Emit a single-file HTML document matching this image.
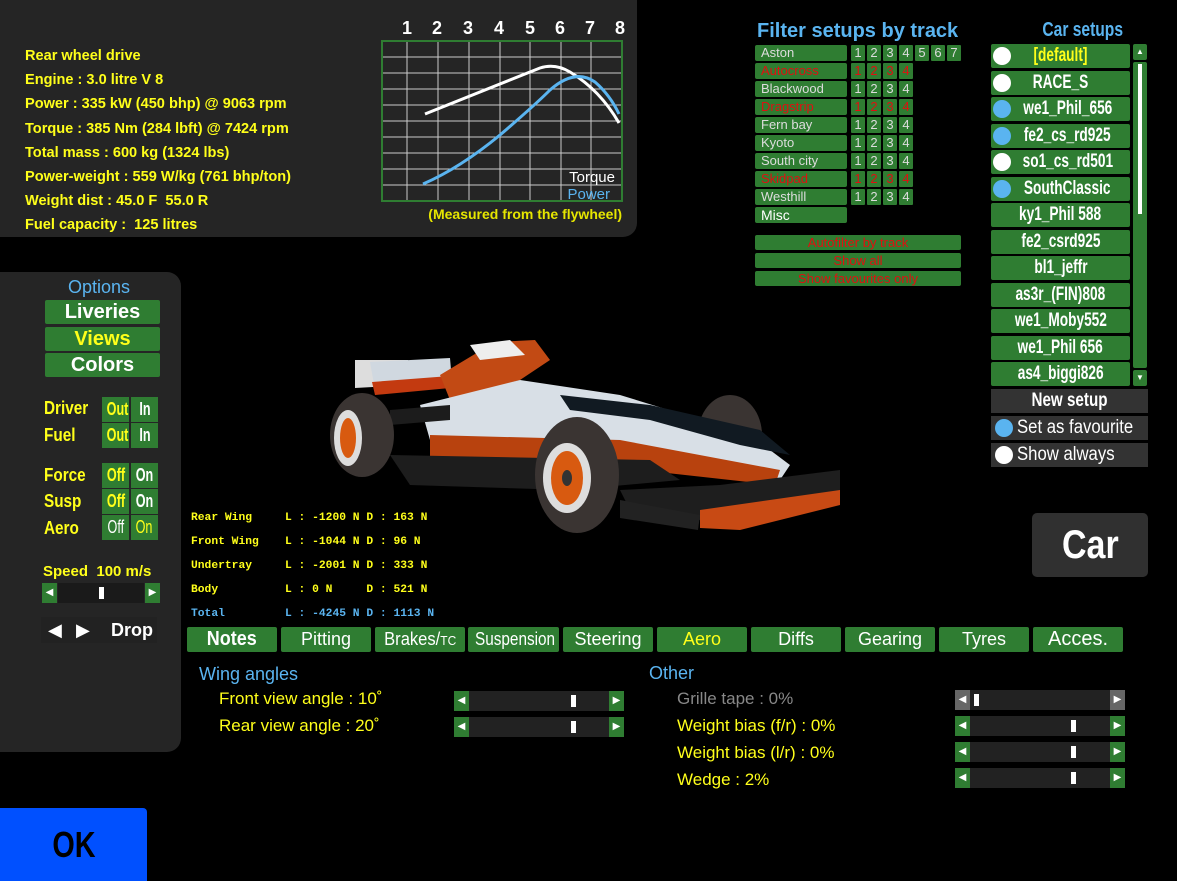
<!DOCTYPE html>
<html><head><meta charset="utf-8"><style>
*{margin:0;padding:0;box-sizing:border-box}
body{width:1177px;height:881px;background:#000;position:relative;overflow:hidden;font-family:"Liberation Sans",sans-serif}
.a{position:absolute}
.g{position:absolute;background:#2f7d32;border-radius:2px}
.y{color:#ffff1a}
.n{font-weight:bold}
.c{display:inline-block;transform:scaleX(.78);transform-origin:center;white-space:nowrap}
.blue{color:#5ab4f0}
.lst{font-weight:bold;color:#fff;font-size:19px;text-align:center;line-height:24px;white-space:nowrap;overflow:hidden}
.lst .c{transform:scaleX(.72)}
.f{font-size:13px;color:#ddd;line-height:16px;padding-left:6px}
.r{color:#e01010}
.num{position:absolute;width:14px;height:16px;background:#2f7d32;color:#ddd;font-size:13px;text-align:center;line-height:16px;border-radius:1px}
.tab{position:absolute;top:627px;height:25px;background:#2f7d32;color:#fff;font-size:18px;text-align:center;line-height:25px;border-radius:2px;white-space:nowrap;overflow:hidden}
.sl{position:absolute;height:20px}
.sl .l,.sl .rr{position:absolute;top:0;width:15px;height:20px;background:#2f7d32;color:#fff;font-size:10px;text-align:center;line-height:20px}
.sl .t{position:absolute;top:0;height:20px;background:#222}
.sl .k{position:absolute;top:4px;width:5px;height:12px;background:#fff}
.lab{position:absolute;font-size:17px;color:#ffff1a}
.tog{position:absolute;width:27px;height:25px;background:#2f7d32;text-align:center;line-height:25px;font-size:18px;font-weight:bold;overflow:hidden}
.tog .c{transform:scaleX(.7)}
.aero{position:absolute;font-family:"Liberation Mono",monospace;font-size:11.3px;font-weight:bold;color:#ffff1a}
</style></head><body>

<div class="a" style="left:0;top:0;width:637px;height:237px;background:#252525;border-bottom-right-radius:14px"></div>
<div class="a n y" style="left:25px;top:44px;font-size:15px;line-height:24.2px;transform:scaleX(.97);transform-origin:left">
Rear wheel drive<br>Engine : 3.0 litre V 8<br>Power : 335 kW (450 bhp) @ 9063 rpm<br>Torque : 385 Nm (284 lbft) @ 7424 rpm<br>Total mass : 600 kg (1324 lbs)<br>Power-weight : 559 W/kg (761 bhp/ton)<br>Weight dist : 45.0 F &nbsp;55.0 R<br>Fuel capacity : &nbsp;125 litres</div>

<svg class="a" style="left:370px;top:10px" width="270" height="220">
<g fill="#fff" font-family="Liberation Sans" font-weight="bold" font-size="18" text-anchor="middle">
<text x="37" y="24">1</text><text x="67" y="24">2</text><text x="98" y="24">3</text><text x="129" y="24">4</text><text x="160" y="24">5</text><text x="190" y="24">6</text><text x="220" y="24">7</text><text x="250" y="24">8</text></g>
<rect x="12" y="31" width="240" height="160" fill="#252525" stroke="#2f7d32" stroke-width="2"/>
<g stroke="#ccc" stroke-width="1">
<line x1="37" y1="32" x2="37" y2="190"/><line x1="68" y1="32" x2="68" y2="190"/><line x1="99" y1="32" x2="99" y2="190"/><line x1="130" y1="32" x2="130" y2="190"/><line x1="160" y1="32" x2="160" y2="190"/><line x1="191" y1="32" x2="191" y2="190"/><line x1="221" y1="32" x2="221" y2="190"/>
<line x1="13" y1="47" x2="251" y2="47"/><line x1="13" y1="63" x2="251" y2="63"/><line x1="13" y1="79" x2="251" y2="79"/><line x1="13" y1="95" x2="251" y2="95"/><line x1="13" y1="111" x2="251" y2="111"/><line x1="13" y1="127" x2="251" y2="127"/><line x1="13" y1="143" x2="251" y2="143"/><line x1="13" y1="159" x2="251" y2="159"/><line x1="13" y1="175" x2="251" y2="175"/></g>
<path d="M55 104 L170 58 Q185 53 200 62 Q230 80 249 113" stroke="#fff" stroke-width="3" fill="none"/>
<path d="M53 174 Q90 158 130 125 Q165 95 180 80 Q205 58 225 72 Q240 85 249 104" stroke="#5ab4f0" stroke-width="3" fill="none"/>
<text x="245" y="172" fill="#fff" font-size="15" text-anchor="end" font-family="Liberation Sans">Torque</text>
<text x="240" y="189" fill="#5ab4f0" font-size="15" text-anchor="end" font-family="Liberation Sans">Power</text>
<text x="252" y="209" fill="#e6e600" font-size="14" font-weight="bold" text-anchor="end" font-family="Liberation Sans">(Measured from the flywheel)</text>
</svg>

<div class="a blue" style="left:757px;top:20px;font-size:20px;font-weight:bold">Filter setups by track</div>
<div class="g f" style="left:755px;top:45px;width:92px;height:16px">Aston</div>
<div class="g f" style="left:755px;top:63px;width:92px;height:16px;color:#e01010">Autocross</div>
<div class="g f" style="left:755px;top:81px;width:92px;height:16px">Blackwood</div>
<div class="g f" style="left:755px;top:99px;width:92px;height:16px;color:#e01010">Dragstrip</div>
<div class="g f" style="left:755px;top:117px;width:92px;height:16px">Fern bay</div>
<div class="g f" style="left:755px;top:135px;width:92px;height:16px">Kyoto</div>
<div class="g f" style="left:755px;top:153px;width:92px;height:16px">South city</div>
<div class="g f" style="left:755px;top:171px;width:92px;height:16px;color:#e01010">Skidpad</div>
<div class="g f" style="left:755px;top:189px;width:92px;height:16px">Westhill</div>
<div class="g f" style="left:755px;top:207px;width:92px;height:16px;font-size:14px;color:#fff">Misc</div>
<div class="num" style="left:851px;top:45px">1</div><div class="num" style="left:867px;top:45px">2</div><div class="num" style="left:883px;top:45px">3</div><div class="num" style="left:899px;top:45px">4</div><div class="num" style="left:915px;top:45px">5</div><div class="num" style="left:931px;top:45px">6</div><div class="num" style="left:947px;top:45px">7</div>
<div class="num" style="left:851px;top:63px;color:#e01010">1</div><div class="num" style="left:867px;top:63px;color:#e01010">2</div><div class="num" style="left:883px;top:63px;color:#e01010">3</div><div class="num" style="left:899px;top:63px;color:#e01010">4</div>
<div class="num" style="left:851px;top:81px">1</div><div class="num" style="left:867px;top:81px">2</div><div class="num" style="left:883px;top:81px">3</div><div class="num" style="left:899px;top:81px">4</div>
<div class="num" style="left:851px;top:99px;color:#e01010">1</div><div class="num" style="left:867px;top:99px;color:#e01010">2</div><div class="num" style="left:883px;top:99px;color:#e01010">3</div><div class="num" style="left:899px;top:99px;color:#e01010">4</div>
<div class="num" style="left:851px;top:117px">1</div><div class="num" style="left:867px;top:117px">2</div><div class="num" style="left:883px;top:117px">3</div><div class="num" style="left:899px;top:117px">4</div>
<div class="num" style="left:851px;top:135px">1</div><div class="num" style="left:867px;top:135px">2</div><div class="num" style="left:883px;top:135px">3</div><div class="num" style="left:899px;top:135px">4</div>
<div class="num" style="left:851px;top:153px">1</div><div class="num" style="left:867px;top:153px">2</div><div class="num" style="left:883px;top:153px">3</div><div class="num" style="left:899px;top:153px">4</div>
<div class="num" style="left:851px;top:171px;color:#e01010">1</div><div class="num" style="left:867px;top:171px;color:#e01010">2</div><div class="num" style="left:883px;top:171px;color:#e01010">3</div><div class="num" style="left:899px;top:171px;color:#e01010">4</div>
<div class="num" style="left:851px;top:189px">1</div><div class="num" style="left:867px;top:189px">2</div><div class="num" style="left:883px;top:189px">3</div><div class="num" style="left:899px;top:189px">4</div>
<div class="g" style="left:755px;top:235px;width:206px;height:15px;color:#e01010;font-size:13px;text-align:center;line-height:15px">Autofilter by track</div>
<div class="g" style="left:755px;top:253px;width:206px;height:15px;color:#e01010;font-size:13px;text-align:center;line-height:15px">Show all</div>
<div class="g" style="left:755px;top:271px;width:206px;height:15px;color:#e01010;font-size:13px;text-align:center;line-height:15px">Show favourites only</div>

<div class="a blue n" style="left:1028px;top:19px;font-size:20px;width:110px;text-align:center"><span class="c">Car setups</span></div>
<div class="g lst" style="left:991px;top:44px;width:139px;height:24px;color:#ffff1a"><span style="position:absolute;left:2px;top:3px;width:18px;height:18px;border-radius:9px;background:#fff"></span><span class="c">[default]</span></div>
<div class="g lst" style="left:991px;top:71px;width:139px;height:24px"><span style="position:absolute;left:2px;top:3px;width:18px;height:18px;border-radius:9px;background:#fff"></span><span class="c">RACE_S</span></div>
<div class="g lst" style="left:991px;top:97px;width:139px;height:24px;padding-left:14px"><span style="position:absolute;left:2px;top:3px;width:18px;height:18px;border-radius:9px;background:#5ab4f0"></span><span class="c">we1_Phil_656</span></div>
<div class="g lst" style="left:991px;top:124px;width:139px;height:24px;padding-left:14px"><span style="position:absolute;left:2px;top:3px;width:18px;height:18px;border-radius:9px;background:#5ab4f0"></span><span class="c">fe2_cs_rd925</span></div>
<div class="g lst" style="left:991px;top:150px;width:139px;height:24px;padding-left:14px"><span style="position:absolute;left:2px;top:3px;width:18px;height:18px;border-radius:9px;background:#fff"></span><span class="c">so1_cs_rd501</span></div>
<div class="g lst" style="left:991px;top:177px;width:139px;height:24px;padding-left:14px"><span style="position:absolute;left:2px;top:3px;width:18px;height:18px;border-radius:9px;background:#5ab4f0"></span><span class="c">SouthClassic</span></div>
<div class="g lst" style="left:991px;top:203px;width:139px;height:24px"><span class="c">ky1_Phil 588</span></div>
<div class="g lst" style="left:991px;top:230px;width:139px;height:24px"><span class="c">fe2_csrd925</span></div>
<div class="g lst" style="left:991px;top:256px;width:139px;height:24px"><span class="c">bl1_jeffr</span></div>
<div class="g lst" style="left:991px;top:283px;width:139px;height:24px"><span class="c">as3r_(FIN)808</span></div>
<div class="g lst" style="left:991px;top:309px;width:139px;height:24px"><span class="c">we1_Moby552</span></div>
<div class="g lst" style="left:991px;top:336px;width:139px;height:24px"><span class="c">we1_Phil 656</span></div>
<div class="g lst" style="left:991px;top:362px;width:139px;height:24px"><span class="c">as4_biggi826</span></div>
<div class="g" style="left:1133px;top:44px;width:14px;height:16px;color:#fff;font-size:8px;text-align:center;line-height:16px">▲</div>
<div class="g" style="left:1133px;top:62px;width:14px;height:306px"><span style="position:absolute;left:5px;top:2px;width:4px;height:150px;background:#fff"></span></div>
<div class="g" style="left:1133px;top:370px;width:14px;height:16px;color:#fff;font-size:8px;text-align:center;line-height:16px">▼</div>
<div class="a lst" style="left:991px;top:389px;width:157px;height:24px;background:#333"><span class="c" style="transform:scaleX(.8)">New setup</span></div>
<div class="a" style="left:991px;top:416px;width:157px;height:24px;background:#333;color:#fff;font-size:19px;line-height:24px;white-space:nowrap"><span style="position:absolute;left:4px;top:3px;width:18px;height:18px;border-radius:9px;background:#5ab4f0"></span><span style="position:absolute;left:26px;transform:scaleX(.88);transform-origin:left">Set as favourite</span></div>
<div class="a" style="left:991px;top:443px;width:157px;height:24px;background:#333;color:#fff;font-size:19px;line-height:24px;white-space:nowrap"><span style="position:absolute;left:4px;top:3px;width:18px;height:18px;border-radius:9px;background:#fff"></span><span style="position:absolute;left:26px;transform:scaleX(.88);transform-origin:left">Show always</span></div>

<div class="a n" style="left:1032px;top:513px;width:116px;height:64px;background:#303030;border-radius:5px;color:#fff;font-size:40px;text-align:center;line-height:64px"><span class="c" style="transform:scaleX(.85)">Car</span></div>

<div class="a" style="left:0;top:272px;width:181px;height:480px;background:#252525;border-top-right-radius:14px;border-bottom-right-radius:14px"></div>
<div class="a blue" style="left:68px;top:277px;font-size:18px">Options</div>
<div class="g" style="left:45px;top:300px;width:115px;height:24px;color:#fff;font-size:20px;font-weight:bold;text-align:center;line-height:24px">Liveries</div>
<div class="g" style="left:45px;top:327px;width:115px;height:24px;color:#ffff1a;font-size:20px;font-weight:bold;text-align:center;line-height:24px">Views</div>
<div class="g" style="left:45px;top:353px;width:115px;height:24px;color:#fff;font-size:20px;font-weight:bold;text-align:center;line-height:24px">Colors</div>
<div class="a n y" style="left:44px;top:398px;font-size:18px;transform:scaleX(.85);transform-origin:left">Driver</div>
<div class="a n y" style="left:44px;top:425px;font-size:18px;transform:scaleX(.85);transform-origin:left">Fuel</div>
<div class="a n y" style="left:44px;top:465px;font-size:18px;transform:scaleX(.85);transform-origin:left">Force</div>
<div class="a n y" style="left:44px;top:491px;font-size:18px;transform:scaleX(.85);transform-origin:left">Susp</div>
<div class="a n y" style="left:44px;top:518px;font-size:18px;transform:scaleX(.85);transform-origin:left">Aero</div>
<div class="tog y" style="left:102px;top:397px"><span class="c">Out</span></div><div class="tog" style="left:131px;top:397px;color:#fff"><span class="c">In</span></div>
<div class="tog y" style="left:102px;top:423px"><span class="c">Out</span></div><div class="tog" style="left:131px;top:423px;color:#fff"><span class="c">In</span></div>
<div class="tog y" style="left:102px;top:463px"><span class="c">Off</span></div><div class="tog" style="left:131px;top:463px;color:#fff"><span class="c">On</span></div>
<div class="tog y" style="left:102px;top:489px"><span class="c">Off</span></div><div class="tog" style="left:131px;top:489px;color:#fff"><span class="c">On</span></div>
<div class="tog" style="left:102px;top:515px;color:#fff;font-weight:normal"><span class="c">Off</span></div><div class="tog y" style="left:131px;top:515px;font-weight:normal"><span class="c">On</span></div>
<div class="a y" style="left:43px;top:563px;font-size:15px;font-weight:bold">Speed &nbsp;100 m/s</div>
<div class="sl" style="left:42px;top:583px;width:118px"><div class="l" style="left:0">◀</div><div class="t" style="left:16px;width:86px;background:#1a1a1a"></div><div class="k" style="left:57px"></div><div class="rr" style="left:103px">▶</div></div>
<div class="a" style="left:41px;top:617px;width:116px;height:26px;background:#222;color:#fff;font-size:18px;line-height:26px"><span style="position:absolute;left:7px">◀</span><span style="position:absolute;left:35px">▶</span><span class="n" style="position:absolute;left:70px">Drop</span></div>

<svg class="a" style="left:320px;top:320px" width="640" height="220">
<ellipse cx="410" cy="115" rx="32" ry="40" fill="#3a3432"/>
<polygon points="35,40 88,40 90,65 35,68" fill="#ddd"/>
<polygon points="50,42 130,38 132,62 55,70" fill="#d0d8e0"/>
<polygon points="52,62 130,56 130,68 55,75" fill="#c33a10"/>
<polygon points="120,55 175,22 215,20 230,40 200,60 130,80" fill="#c24a14"/>
<polygon points="150,25 190,20 205,35 160,40" fill="#eee"/>
<polygon points="100,85 200,60 300,75 430,115 470,145 460,160 330,140 150,135 110,120" fill="#d8dfe6"/>
<polygon points="110,115 300,120 460,150 455,165 320,150 110,140" fill="#b8420e"/>
<polygon points="240,75 330,85 440,110 470,135 420,125 330,100 250,90" fill="#111a22"/>
<polygon points="70,90 130,85 130,100 70,105" fill="#1c1c1c"/>
<polygon points="70,135 330,140 360,160 250,170 90,165" fill="#1d1d1d"/>
<polygon points="300,170 400,165 520,150 520,175 470,195 380,200 310,190" fill="#1e1e1e"/>
<polygon points="380,190 520,170 520,185 420,210 380,208" fill="#c84a14"/>
<polygon points="300,180 380,195 378,210 300,198" fill="#222"/>
<ellipse cx="42" cy="115" rx="32" ry="42" fill="#3a3432"/>
<ellipse cx="28" cy="118" rx="14" ry="28" fill="#ddd"/>
<ellipse cx="28" cy="118" rx="8" ry="20" fill="#d85a10"/>
<ellipse cx="257" cy="155" rx="42" ry="58" fill="#3a3432"/>
<ellipse cx="247" cy="158" rx="24" ry="35" fill="#ddd"/>
<ellipse cx="247" cy="158" rx="16" ry="27" fill="#d85a10"/>
<ellipse cx="247" cy="158" rx="5" ry="8" fill="#333"/>
</svg>

<div class="aero" style="left:191px;top:506px;line-height:24px">Rear Wing<br>Front Wing<br>Undertray<br>Body<br><span style="color:#5ab4f0">Total</span></div>
<div class="aero" style="left:285px;top:506px;line-height:24px;white-space:pre">L : -1200 N D : 163 N
L : -1044 N D : 96 N
L : -2001 N D : 333 N
L : 0 N     D : 521 N
<span style="color:#5ab4f0">L : -4245 N D : 1113 N</span></div>

<div class="tab" style="left:187px;width:90px;font-size:20px;font-weight:bold"><span class="c" style="transform:scaleX(.9)">Notes</span></div>
<div class="tab" style="left:281px;width:90px">Pitting</div>
<div class="tab" style="left:375px;width:90px"><span class="c" style="transform:scaleX(.92)">Brakes/<span style="font-size:13px">TC</span></span></div>
<div class="tab" style="left:468px;width:91px"><span class="c" style="transform:scaleX(.85)">Suspension</span></div>
<div class="tab" style="left:563px;width:90px">Steering</div>
<div class="tab" style="left:657px;width:90px;color:#ffff1a">Aero</div>
<div class="tab" style="left:751px;width:90px">Diffs</div>
<div class="tab" style="left:845px;width:90px">Gearing</div>
<div class="tab" style="left:939px;width:90px">Tyres</div>
<div class="tab" style="left:1033px;width:90px;font-size:20px">Acces.</div>

<div class="a blue" style="left:199px;top:664px;font-size:18px">Wing angles</div>
<div class="a blue" style="left:649px;top:663px;font-size:18px">Other</div>
<div class="lab" style="left:219px;top:689px">Front view angle : 10˚</div>
<div class="lab" style="left:219px;top:716px">Rear view angle : 20˚</div>
<div class="lab" style="left:677px;top:689px;color:#888">Grille tape : 0%</div>
<div class="lab" style="left:677px;top:716px">Weight bias (f/r) : 0%</div>
<div class="lab" style="left:677px;top:743px">Weight bias (l/r) : 0%</div>
<div class="lab" style="left:677px;top:770px">Wedge : 2%</div>
<div class="sl" style="left:454px;top:691px;width:170px"><div class="l" style="left:0">◀</div><div class="t" style="left:15px;width:140px"></div><div class="k" style="left:117px"></div><div class="rr" style="left:155px">▶</div></div>
<div class="sl" style="left:454px;top:717px;width:170px"><div class="l" style="left:0">◀</div><div class="t" style="left:15px;width:140px"></div><div class="k" style="left:117px"></div><div class="rr" style="left:155px">▶</div></div>
<div class="sl" style="left:955px;top:690px;width:170px"><div class="l" style="left:0;background:#666">◀</div><div class="t" style="left:15px;width:140px"></div><div class="k" style="left:19px"></div><div class="rr" style="left:155px;background:#666">▶</div></div>
<div class="sl" style="left:955px;top:716px;width:170px"><div class="l" style="left:0">◀</div><div class="t" style="left:15px;width:140px"></div><div class="k" style="left:116px"></div><div class="rr" style="left:155px">▶</div></div>
<div class="sl" style="left:955px;top:742px;width:170px"><div class="l" style="left:0">◀</div><div class="t" style="left:15px;width:140px"></div><div class="k" style="left:116px"></div><div class="rr" style="left:155px">▶</div></div>
<div class="sl" style="left:955px;top:768px;width:170px"><div class="l" style="left:0">◀</div><div class="t" style="left:15px;width:140px"></div><div class="k" style="left:116px"></div><div class="rr" style="left:155px">▶</div></div>

<div class="a n" style="left:0;top:808px;width:147px;height:73px;background:#0050ff;border-top-right-radius:4px;color:#000;font-size:36px;text-align:center;line-height:73px"><span class="c" style="transform:scaleX(.8)">OK</span></div>
</body></html>
